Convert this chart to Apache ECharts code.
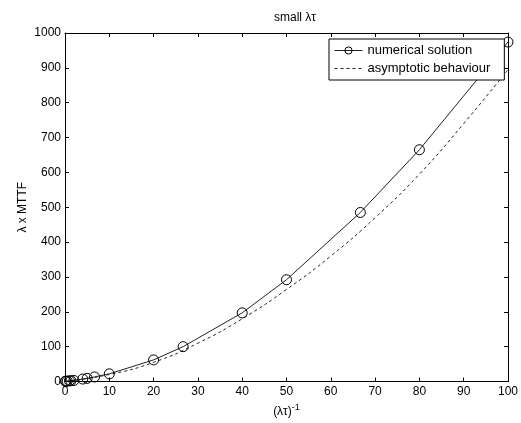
<!DOCTYPE html>
<html>
<head>
<meta charset="utf-8">
<title>small λτ</title>
<style>
  html, body { margin: 0; padding: 0; background: #fff; }
  #main { width: 521px; height: 423px; }
</style>
</head>
<body>
<div id="main"></div>
<script src="https://cdn.jsdelivr.net/npm/echarts@6/dist/echarts.min.js"></script>
<script>
// numerical solution: (λτ)^-1 vs λ x MTTF
var numX = [0.1, 0.2, 0.5, 1, 1.33, 2, 4, 5, 6.67, 10, 20, 26.67, 40, 50, 66.67, 80, 100];
var numY = [1, 1, 1, 2, 2, 3, 7, 9, 13, 22, 62, 100, 197, 292, 485, 665, 974];

// asymptotic behaviour (dashed)
var asyX = [0, 10, 20, 30, 40, 50, 60, 70, 80, 90, 100];
var asyY = [0, 20, 55, 110, 180, 264, 360, 470, 595, 740, 895];

function pairs(xs, ys) {
  var out = [];
  for (var i = 0; i < xs.length; i++) out.push([xs[i], ys[i]]);
  return out;
}

var font = 'Liberation Sans, Arial, sans-serif';
var axisCommon = {
  axisLine: { show: true, onZero: false, lineStyle: { color: '#000', width: 1 } },
  axisTick: { show: true, inside: true, length: 4, lineStyle: { color: '#000' } },
  splitLine: { show: false }
};
var labelStyle = { fontFamily: font, fontSize: 12, color: '#000', margin: 4,
  formatter: function (v) { return String(v); } };

var chart = echarts.init(document.getElementById('main'));
chart.setOption({
  animation: false,
  backgroundColor: '#fff',
  title: {
    text: 'small λτ',
    left: 290, top: 7,
    textAlign: 'center',
    textStyle: { fontFamily: font, fontSize: 12, fontWeight: 'normal', color: '#000' }
  },
  grid: { left: 65, right: 10, top: 33, bottom: 41 },
  legend: {
    left: 329, top: 39,
    orient: 'vertical',
    backgroundColor: '#fff',
    borderColor: '#000', borderWidth: 1, borderRadius: 0,
    padding: [5, 14, 5, 5],
    itemGap: 5,
    itemWidth: 28, itemHeight: 9,
    textStyle: { fontFamily: font, fontSize: 13, color: '#000' },
    lineStyle: { width: 1 },
    data: [
      { name: 'numerical solution', itemStyle: { borderWidth: 1 } },
      { name: 'asymptotic behaviour', itemStyle: { opacity: 0 } }
    ]
  },
  xAxis: [
    Object.assign({
      type: 'value', min: 0, max: 100, interval: 10,
      name: '(λτ){sup|-1}',
      nameLocation: 'middle', nameGap: 22,
      nameMoveOverlap: false,
      nameTextStyle: {
        fontFamily: font, fontSize: 12, color: '#000',
        rich: { sup: { fontSize: 9, verticalAlign: 'top', padding: [0, 0, 8, 0] } }
      },
      axisLabel: labelStyle
    }, axisCommon),
    Object.assign({
      type: 'value', min: 0, max: 100, interval: 10, position: 'top',
      axisLabel: { show: false }
    }, axisCommon)
  ],
  yAxis: [
    Object.assign({
      type: 'value', min: 0, max: 1000, interval: 100,
      name: 'λ x MTTF',
      nameLocation: 'middle', nameGap: 36,
      nameMoveOverlap: false,
      nameTextStyle: { fontFamily: font, fontSize: 12, color: '#000' },
      axisLabel: labelStyle
    }, axisCommon),
    Object.assign({
      type: 'value', min: 0, max: 1000, interval: 100, position: 'right',
      axisLabel: { show: false }
    }, axisCommon)
  ],
  series: [
    {
      name: 'numerical solution',
      type: 'line',
      data: pairs(numX, numY),
      symbol: 'circle',
      symbolSize: 10,
      showAllSymbol: true,
      lineStyle: { color: '#222', width: 1 },
      itemStyle: { color: 'rgba(0,0,0,0)', borderColor: '#000', borderWidth: 1 },
      emphasis: { disabled: true },
      z: 3
    },
    {
      name: 'asymptotic behaviour',
      type: 'line',
      data: pairs(asyX, asyY),
      smooth: true,
      symbol: 'none',
      lineStyle: { color: '#222', width: 1, type: [3, 3] },
      itemStyle: { color: '#000' },
      emphasis: { disabled: true },
      z: 2
    }
  ]
});
</script>
</body>
</html>
